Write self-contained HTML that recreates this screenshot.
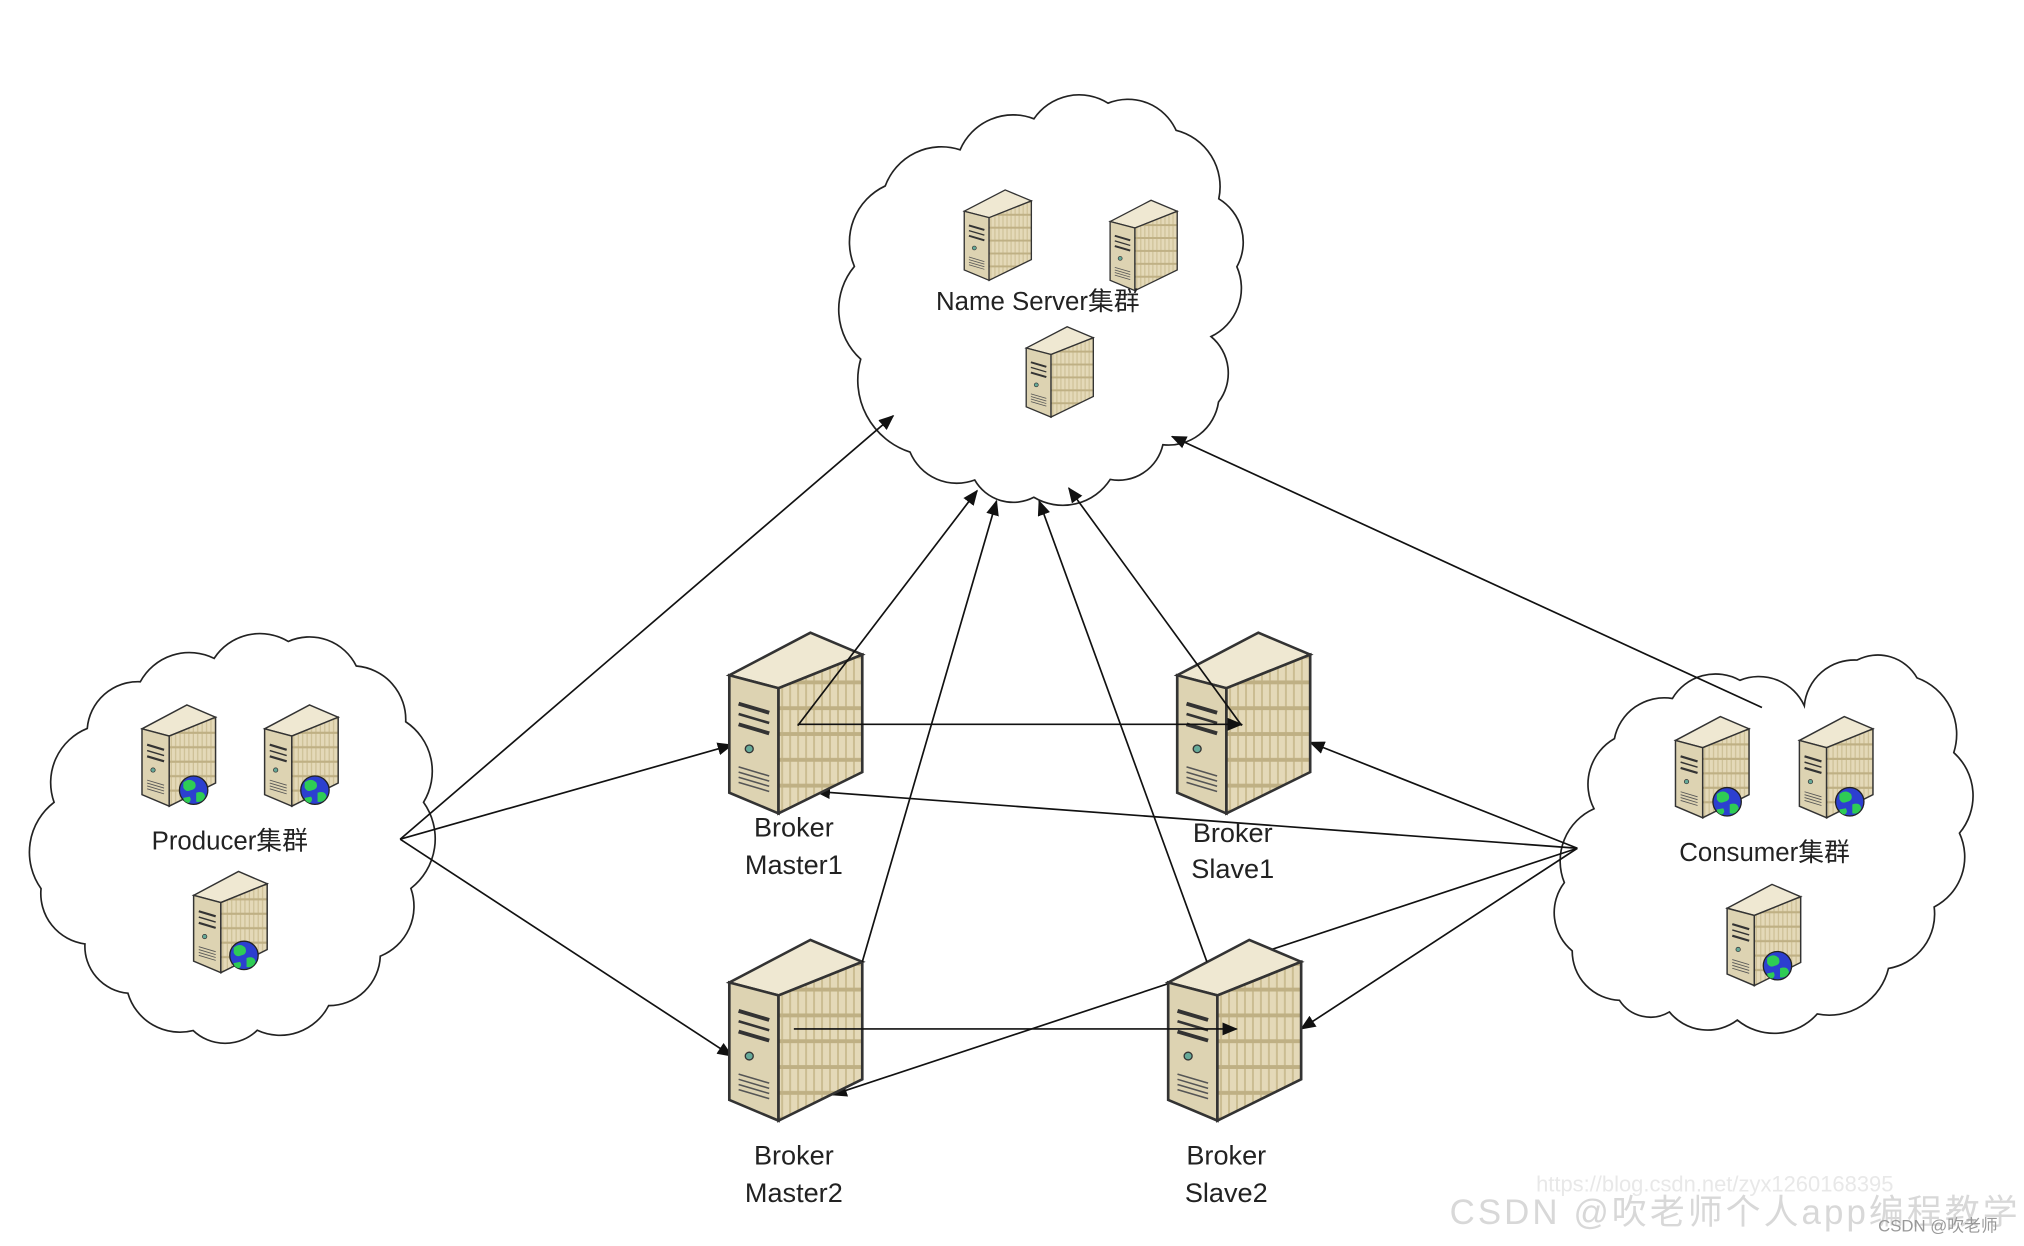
<!DOCTYPE html>
<html><head><meta charset="utf-8">
<style>
html,body{margin:0;padding:0;background:#fff;}
svg{display:block;}
text{font-family:"Liberation Sans","Noto Sans CJK SC",sans-serif;fill:#222;}
</style></head>
<body>
<svg id="s" width="2024" height="1246" viewBox="0 0 1568 965" xmlns="http://www.w3.org/2000/svg">
<defs>
<marker id="ar" markerWidth="12" markerHeight="10" refX="11" refY="5" orient="auto" markerUnits="userSpaceOnUse">
<path d="M0,0 L12,5 L0,10 z" fill="#111"/>
</marker>
<pattern id="st" width="6" height="20" patternUnits="userSpaceOnUse">
<rect width="6" height="20" fill="#e4d9b8"/>
<rect x="3" width="1.5" height="20" fill="#cbbd92"/>
<rect y="17" width="6" height="3" fill="#bfb084"/>
</pattern>
<g id="srv">
<polygon points="0,33 61,0 100,17 37,43" fill="#efe8d2" stroke="#333" stroke-width="2"/>
<polygon points="0,33 37,43 37,140 0,124" fill="#ddd3b2" stroke="#333" stroke-width="2"/>
<polygon points="37,43 100,17 100,108 37,140" fill="url(#st)" stroke="#333" stroke-width="2"/>
<line x1="7" y1="55" x2="30" y2="62" stroke="#333" stroke-width="3"/>
<line x1="7" y1="63" x2="30" y2="70" stroke="#333" stroke-width="2"/>
<line x1="7" y1="71" x2="30" y2="78" stroke="#333" stroke-width="3"/>
<circle cx="15" cy="90" r="3" fill="#6a9" stroke="#333"/>
<g stroke="#555" stroke-width="1.2"><line x1="7" y1="104" x2="30" y2="111"/><line x1="7" y1="108" x2="30" y2="115"/><line x1="7" y1="112" x2="30" y2="119"/><line x1="7" y1="116" x2="30" y2="123"/></g>
</g>
<g id="globe">
<circle r="11" fill="#2c3fd0" stroke="#222" stroke-width="1"/>
<path d="M-8,-6 q5,-4 9,0 q2,5 -3,6 q-4,2 -6,-2z M2,2 q6,-2 7,3 q-2,5 -7,4z M-3,5 q2,3 -1,5 q-4,-1 -4,-4z" fill="#2ecc55"/>
</g>
</defs>
<g id="clouds" fill="none" stroke="#222" stroke-width="1.3"></g>

<g stroke="#111" stroke-width="1.3" fill="none" marker-end="url(#ar)">
<line x1="310" y1="650" x2="692" y2="322"/>
<line x1="310" y1="650" x2="567" y2="577"/>
<line x1="310" y1="650" x2="567" y2="818"/>
<line x1="1365" y1="548" x2="908" y2="338"/>
<line x1="1222" y1="657" x2="1015" y2="575"/>
<line x1="1222" y1="657" x2="632" y2="613"/>
<line x1="1222" y1="657" x2="645" y2="848"/>
<line x1="1222" y1="657" x2="1008" y2="797"/>
</g>

<use href="#srv" transform="translate(747,147) scale(0.52,0.5)"/>
<use href="#srv" transform="translate(860,155) scale(0.52,0.5)"/>
<use href="#srv" transform="translate(795,253) scale(0.52,0.5)"/>
<text x="804" y="240" font-size="20" text-anchor="middle">Name Server集群</text>

<use href="#srv" transform="translate(110,546) scale(0.57,0.56)"/>
<use href="#srv" transform="translate(205,546) scale(0.57,0.56)"/>
<use href="#srv" transform="translate(150,675) scale(0.57,0.56)"/>
<use href="#globe" transform="translate(150,612)"/>
<use href="#globe" transform="translate(244,612)"/>
<use href="#globe" transform="translate(189,740)"/>
<text x="178" y="658" font-size="20" text-anchor="middle">Producer集群</text>

<use href="#srv" transform="translate(1298,555) scale(0.57,0.56)"/>
<use href="#srv" transform="translate(1394,555) scale(0.57,0.56)"/>
<use href="#srv" transform="translate(1338,685) scale(0.57,0.56)"/>
<use href="#globe" transform="translate(1338,621)"/>
<use href="#globe" transform="translate(1433,621)"/>
<use href="#globe" transform="translate(1377,748)"/>
<text x="1367" y="667" font-size="20" text-anchor="middle">Consumer集群</text>

<use href="#srv" transform="translate(565,490) scale(1.03,1.0)"/>
<use href="#srv" transform="translate(912,490) scale(1.03,1.0)"/>
<use href="#srv" transform="translate(565,728) scale(1.03,1.0)"/>
<use href="#srv" transform="translate(905,728) scale(1.03,1.0)"/>

<g stroke="#111" stroke-width="1.3" fill="none" marker-end="url(#ar)">
<line x1="618" y1="562" x2="757" y2="380"/>
<line x1="668" y1="745" x2="772" y2="388"/>
<line x1="962" y1="562" x2="828" y2="378"/>
<line x1="935" y1="745" x2="805" y2="388"/>
<line x1="618" y1="561" x2="962" y2="561"/>
<line x1="615" y1="797" x2="958" y2="797"/>
</g>

<g font-size="21" text-anchor="middle">
<text x="615" y="648">Broker</text><text x="615" y="677">Master1</text>
<text x="955" y="652">Broker</text><text x="955" y="680">Slave1</text>
<text x="615" y="902">Broker</text><text x="615" y="931">Master2</text>
<text x="950" y="902">Broker</text><text x="950" y="931">Slave2</text>
</g>
<text x="1190" y="923" font-size="17" style="fill:#e8e8e8">https://blog.csdn.net/zyx1260168395</text>
<text x="1123" y="948" font-size="27" textLength="440" style="fill:#d8d8d8">CSDN @吹老师个人app编程教学</text>
<text x="1455" y="954" font-size="13" style="fill:#999">CSDN @吹老师</text>
</svg>
<script>
function cloud(p){
 var cx=0,cy=0;p.forEach(function(q){cx+=q[0];cy+=q[1];});cx/=p.length;cy/=p.length;
 p=p.map(function(q){var dx=q[0]-cx,dy=q[1]-cy,l=Math.hypot(dx,dy);return [q[0]-dx/l*7,q[1]-dy/l*7];});
 var d="M"+p[0][0].toFixed(1)+","+p[0][1].toFixed(1);
 for(var i=1;i<=p.length;i++){
  var a=p[i-1],b=p[i%p.length];
  var L=Math.hypot(b[0]-a[0],b[1]-a[1]);
  var r=L*0.72;
  d+=" A"+r.toFixed(1)+","+r.toFixed(1)+" 0 0 1 "+b[0].toFixed(1)+","+b[1].toFixed(1);
 }
 return d+"Z";
}
var C=[
[[700,355],[660,280],[655,205],[680,140],[740,110],[800,85],[860,73],[915,95],[950,150],[965,205],[945,262],[950,315],[905,350],[862,378],[800,392],[752,378]],
[[95,775],[60,735],[25,690],[35,620],[62,560],[105,522],[165,503],[225,490],[280,510],[320,555],[335,620],[325,690],[300,745],[258,785],[200,805],[148,805]],
[[1290,790],[1250,780],[1212,740],[1205,685],[1228,625],[1245,568],[1292,535],[1347,520],[1400,540],[1442,505],[1490,520],[1520,580],[1525,645],[1505,705],[1468,755],[1410,792],[1345,797]]
];
var g=document.getElementById("clouds"),h="";
C.forEach(function(p){h+='<path d="'+cloud(p)+'"/>';});
g.innerHTML=h;
</script>
</body></html>
